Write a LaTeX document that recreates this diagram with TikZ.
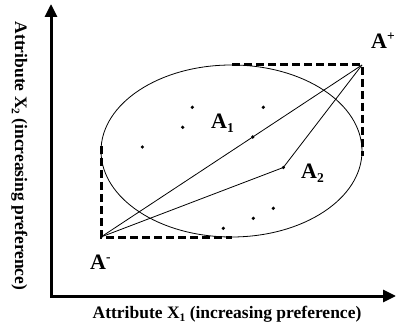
\documentclass[tikz,border=0pt]{standalone}
\usepackage{fontspec}
\setmainfont{Liberation Serif}
\usetikzlibrary{arrows.meta}
\newcommand\labsub[1]{\raisebox{-4pt}{\fontsize{13.5}{14}\selectfont #1}}
\newcommand\labsup[1]{\raisebox{8pt}{\fontsize{13.5}{14}\selectfont #1}}
\newcommand\axsub[1]{\raisebox{-3pt}{\fontsize{11.5}{12}\selectfont #1}}
\begin{document}
\begin{tikzpicture}[x=1pt,y=-1pt,
  axis/.style={line width=3pt,{Triangle[length=13pt,width=12pt]}-{Triangle[length=13pt,width=12pt]}},
  dashbox/.style={line width=3pt,dash pattern=on 8pt off 4pt},
  thin line/.style={line width=0.8pt},
  dot/.style={circle,fill=black,inner sep=0pt,minimum size=3.6pt},
  lab/.style={font=\fontsize{22}{24}\selectfont\bfseries,inner sep=0pt,anchor=base west},
  axlab/.style={font=\fontsize{17.5}{20}\selectfont\bfseries,inner sep=0pt,anchor=base}]
\useasboundingbox (0,0) rectangle (396,323);
% axes
\coordinate (ytop) at (51,4);
\coordinate (orig) at (51,296);
\coordinate (xend) at (396,296);
\draw[axis] (ytop) -- (orig) -- (xend);
\node[axlab] (xlab) at (227,318) {Attribute X\axsub{1} (increasing preference)};
\node[axlab,rotate=-90] (ylab) at (15,156) {Attribute X\axsub{2} (increasing preference)};
% ellipse
\coordinate (ec) at (231.5,151);
\draw[thin line] (ec) ellipse [x radius=130.5pt, y radius=86pt];
% key points
\coordinate (Am) at (101,237);
\coordinate (Ap) at (362,65);
\coordinate (bm) at (232,237);
\coordinate (lm) at (101,146);
\coordinate (tp) at (232,65);
\coordinate (rp) at (362,156);
\draw[dashbox] (lm) -- (Am) -- (bm);
\draw[dashbox] (tp) -- (Ap) -- (rp);
\node[dot] (p1) at (252.7,137) {};
\node[dot] (p2) at (283.3,167.5) {};
\draw[thin line] (Am) -- (Ap);
\draw[thin line] (Am) -- (p2.center) -- (Ap);
% other dots
\node[dot] (d1) at (192.3,107.3) {};
\node[dot] (d2) at (182.7,127.3) {};
\node[dot] (d3) at (142.3,147) {};
\node[dot] (d4) at (263.3,107.3) {};
\node[dot] (d5) at (273.3,208.3) {};
\node[dot] (d6) at (253.3,218.3) {};
\node[dot] (d7) at (223.3,228.3) {};
% labels
\node[lab] (L1) at (211,128.5) {A\labsub{1}};
\node[lab] (L2) at (301,179) {A\labsub{2}};
\node[lab] (Lp) at (371,49) {A\labsup{+}};
\node[lab] (Lm) at (90,269.5) {A\labsup{-}};
\end{tikzpicture}
\end{document}
